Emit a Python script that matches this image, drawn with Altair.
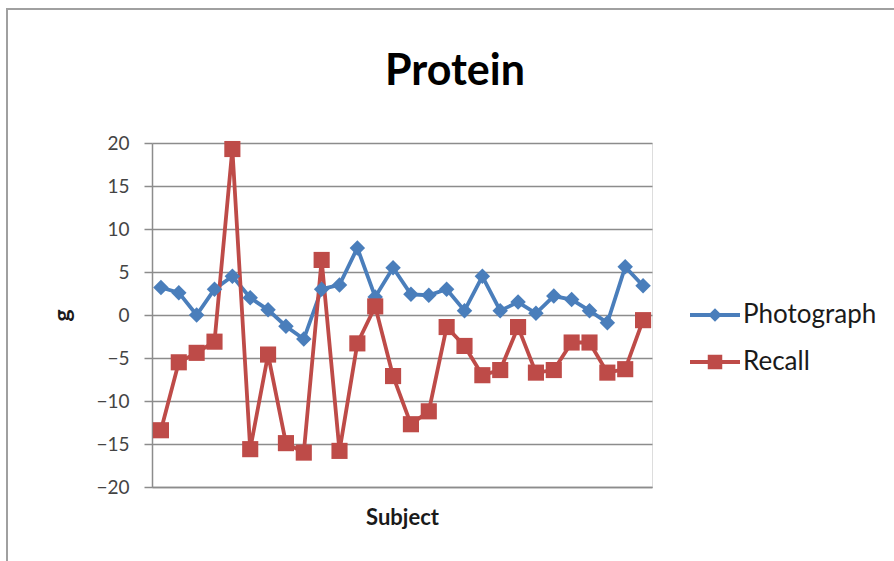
import altair as alt
import pandas as pd

subjects = list(range(1, 29))
photograph = [3.2, 2.6, 0.0, 3.0, 4.5, 2.0, 0.6, -1.3, -2.8, 3.0, 3.5, 7.8, 2.1, 5.5,
              2.4, 2.3, 3.0, 0.5, 4.5, 0.5, 1.5, 0.2, 2.2, 1.8, 0.5, -0.9, 5.6, 3.4]
recall = [-13.4, -5.5, -4.4, -3.1, 19.3, -15.6, -4.6, -14.9, -16.0, 6.4, -15.8, -3.3, 1.0, -7.1,
          -12.7, -11.2, -1.4, -3.6, -7.0, -6.4, -1.4, -6.7, -6.4, -3.2, -3.2, -6.7, -6.3, -0.6]
series_names = ["Photograph", "Recall"]
series_colors = ["#4A7EBB", "#BE4B48"]
y_ticks = [-20, -15, -10, -5, 0, 5, 10, 15, 20]

df = pd.DataFrame({
    "subject": subjects * 2,
    "value": photograph + recall,
    "series": ["Photograph"] * len(subjects) + ["Recall"] * len(subjects),
})

FONT = "Lato"

x_enc = alt.X("subject:O", scale=alt.Scale(padding=0.5),
              axis=alt.Axis(title="Subject", labels=False, ticks=False, domain=True,
                            domainColor="#8c8c8c", domainWidth=1.5,
                            titleFont=FONT, titleFontSize=22, titleFontWeight="bold",
                            titleColor="#1a1a1a", titleY=37, titleBaseline="alphabetic"))
y_enc = alt.Y("value:Q", scale=alt.Scale(domain=[-20, 20], nice=False),
              axis=alt.Axis(title="g", values=y_ticks, grid=True, gridColor="#8c8c8c",
                            gridWidth=1.5, domainColor="#8c8c8c", domainWidth=1.5,
                            tickColor="#8c8c8c", tickWidth=1.5, tickSize=8,
                            labelPadding=15, labelFont=FONT, labelFontSize=19,
                            labelColor="#444444",
                            titleFont=FONT, titleFontSize=23, titleFontWeight="bold",
                            titleColor="#1a1a1a", titleX=-90, titleY=172,
                            titleBaseline="middle"))
# data-derived domain (alphabetical: Photograph, Recall) for the drawn marks
mark_scale = alt.Scale(range=series_colors)
# explicit domain for the legend
legend_color_scale = alt.Scale(domain=series_names, range=series_colors)

base = alt.Chart(df)

lines = base.mark_line(strokeWidth=3.8).encode(
    x=x_enc, y=y_enc,
    stroke=alt.Stroke("series:N", scale=mark_scale, legend=None),
    detail="series:N",
)

diamonds = base.transform_filter(alt.datum.series == "Photograph").mark_point(
    shape="diamond", filled=True, size=240, opacity=1
).encode(x="subject:O", y="value:Q",
         fill=alt.Fill("series:N", scale=mark_scale, legend=None))

squares = base.transform_filter(alt.datum.series == "Recall").mark_point(
    shape="square", filled=True, size=260, opacity=1
).encode(x="subject:O", y="value:Q",
         fill=alt.Fill("series:N", scale=mark_scale, legend=None))

legend_paths = [
    "M-1,-0.08H1V0.08H-1Z M0,-0.27L0.27,0L0,0.27L-0.27,0Z",
    "M-1,-0.08H1V0.08H-1Z M-0.29,-0.29H0.29V0.29H-0.29Z",
]

legend_props = dict(title=None, orient="none", legendX=538, legendY=147,
                    symbolSize=2500, symbolStrokeWidth=0, symbolOpacity=1,
                    labelFont=FONT, labelFontSize=26, labelColor="#1a1a1a",
                    labelOffset=3, rowPadding=9, padding=0)

legend_layer = base.mark_point(filled=True, opacity=0).encode(
    x="subject:O", y="value:Q",
    color=alt.Color("series:N", scale=legend_color_scale, legend=alt.Legend(**legend_props)),
    shape=alt.Shape("series:N", scale=alt.Scale(domain=series_names, range=legend_paths),
                    legend=alt.Legend(**legend_props)),
)

border = alt.Chart(alt.Data(values=[{"a": 1}])).mark_rect(
    filled=False, stroke="#a0a0a0", strokeWidth=2
).encode(x=alt.value(-145), x2=alt.value(760), y=alt.value(-134), y2=alt.value(440))

chart = alt.layer(border, lines, diamonds, squares, legend_layer).properties(
    width=500, height=344,
    title=alt.TitleParams("Protein", font=FONT, fontSize=43, fontWeight="bold",
                          color="#000000", frame="group", dx=53, offset=-120,
                          baseline="alphabetic"),
    autosize=alt.AutoSizeParams(type="none"),
    padding={"left": 152, "top": 143, "right": 242, "bottom": 74},
).configure_view(stroke=None).configure(background="white")

chart.save("out.html", embed_options={"renderer": "svg", "actions": False})
